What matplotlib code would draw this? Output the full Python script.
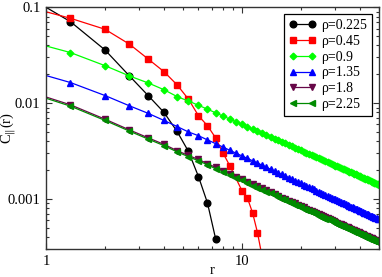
import matplotlib
matplotlib.use("Agg")
import matplotlib.pyplot as plt
from matplotlib.ticker import LogLocator, NullFormatter

# sampling grid r = 2/3, 4/3, ... 50
r = [0.667, 1.333, 2.0, 2.667, 3.333, 4.0, 4.667, 5.333, 6.0, 6.667,
     7.333, 8.0, 8.667, 9.333, 10.0, 10.667, 11.333, 12.0, 12.667, 13.333,
     14.0, 14.667, 15.333, 16.0, 16.667, 17.333, 18.0, 18.667, 19.333, 20.0,
     20.667, 21.333, 22.0, 22.667, 23.333, 24.0, 24.667, 25.333, 26.0, 26.667,
     27.333, 28.0, 28.667, 29.333, 30.0, 30.667, 31.333, 32.0, 32.667, 33.333,
     34.0, 34.667, 35.333, 36.0, 36.667, 37.333, 38.0, 38.667, 39.333, 40.0,
     40.667, 41.333, 42.0, 42.667, 43.333, 44.0, 44.667, 45.333, 46.0, 46.667,
     47.333, 48.0, 48.667, 49.333, 50.0]

labels = ["ρ=0.225", "ρ=0.45", "ρ=0.9", "ρ=1.35", "ρ=1.8", "ρ=2.25"]

c_0225 = [0.163, 0.0708, 0.0359, 0.0192, 0.0119, 0.0080, 0.00506, 0.00313,
          0.00171, 0.000908, 0.000386]

r_045 = [0.667, 1.333, 2.0, 2.667, 3.333, 4.0, 4.667, 5.333, 6.0, 6.667,
         7.333, 8.0, 8.667, 10.0, 10.667, 11.333, 12.0, 12.667]
c_045 = [0.112, 0.0768, 0.059, 0.0412, 0.0287, 0.0213, 0.0155, 0.0110,
         0.00738, 0.00581, 0.00435, 0.00302, 0.00222, 0.00122, 0.00102,
         0.000714, 0.000445, 0.00025]

c_09 = [0.0494, 0.0337, 0.0246, 0.0192, 0.0162, 0.0138, 0.0117, 0.0105,
        0.0095, 0.00864, 0.00793, 0.00733, 0.00682, 0.00639, 0.00600, 0.00566,
        0.00536, 0.00509, 0.00485, 0.00463, 0.00443, 0.00425, 0.00408, 0.00393,
        0.00379, 0.00366, 0.00353, 0.00342, 0.00331, 0.00321, 0.00312, 0.00303,
        0.00295, 0.00287, 0.00280, 0.00273, 0.00266, 0.00260, 0.00254, 0.00248,
        0.00243, 0.00238, 0.00232, 0.00228, 0.00223, 0.00219, 0.00215, 0.00211,
        0.00207, 0.00203, 0.00199, 0.00196, 0.00193, 0.00189, 0.00186, 0.00183,
        0.00180, 0.00178, 0.00175, 0.00172, 0.00170, 0.00167, 0.00165, 0.00163,
        0.00160, 0.00158, 0.00156, 0.00154, 0.00152, 0.00150, 0.00148, 0.00146,
        0.00144, 0.00143, 0.00141]

c_135 = [0.0246, 0.0164, 0.0120, 0.00937, 0.0078, 0.00659, 0.0057, 0.0050,
         0.00457, 0.00413, 0.00378, 0.00348, 0.00322, 0.00300, 0.00281, 0.00265,
         0.00250, 0.00237, 0.00225, 0.00214, 0.00204, 0.00196, 0.00187, 0.00180,
         0.00173, 0.00167, 0.00161, 0.00155, 0.00150, 0.00146, 0.00141, 0.00137,
         0.00133, 0.00129, 0.00126, 0.00122, 0.00119, 0.00116, 0.00113, 0.00111,
         0.00108, 0.00106, 0.00103, 0.00101, 0.000991, 0.000970, 0.000951,
         0.000932, 0.000914, 0.000896, 0.000880, 0.000864, 0.000848, 0.000833,
         0.000819, 0.000805, 0.000791, 0.000778, 0.000766, 0.000754, 0.000742,
         0.000731, 0.000720, 0.000709, 0.000699, 0.000689, 0.000679, 0.000670,
         0.000660, 0.000651, 0.000643, 0.000634, 0.000626, 0.000618, 0.000610]

c_18 = [0.0151, 0.0096, 0.0068, 0.00525, 0.00433, 0.00371, 0.00319, 0.00284,
        0.00258, 0.00234, 0.00213, 0.00197, 0.00183, 0.00171, 0.00161, 0.00150,
        0.00142, 0.00135, 0.00129, 0.00123, 0.00117, 0.00112, 0.00108, 0.00103,
        0.000996, 0.000960, 0.000927, 0.000896, 0.000867, 0.000840, 0.000815,
        0.000791, 0.000769, 0.000748, 0.000728, 0.000710, 0.000692, 0.000675,
        0.000658, 0.000643, 0.000628, 0.000615, 0.000601, 0.000588, 0.000577,
        0.000564, 0.000553, 0.000543, 0.000533, 0.000522, 0.000513, 0.000504,
        0.000495, 0.000486, 0.000478, 0.000471, 0.000462, 0.000455, 0.000448,
        0.000441, 0.000435, 0.000428, 0.000421, 0.000415, 0.000410, 0.000404,
        0.000398, 0.000392, 0.000387, 0.000382, 0.000377, 0.000372, 0.000368,
        0.000364, 0.000358]

c_225 = [0.0147, 0.0093, 0.0066, 0.0051, 0.0042, 0.0036, 0.0031, 0.00276,
         0.00250, 0.00227, 0.00207, 0.00191, 0.00178, 0.00166, 0.00156, 0.00146,
         0.00138, 0.00131, 0.00125, 0.00119, 0.00114, 0.00109, 0.00105, 0.00100,
         0.000967, 0.000932, 0.000900, 0.000870, 0.000842, 0.000816, 0.000791,
         0.000768, 0.000747, 0.000726, 0.000707, 0.000689, 0.000671, 0.000655,
         0.000639, 0.000624, 0.000610, 0.000597, 0.000584, 0.000571, 0.000560,
         0.000548, 0.000537, 0.000527, 0.000517, 0.000507, 0.000498, 0.000489,
         0.000481, 0.000472, 0.000464, 0.000457, 0.000449, 0.000442, 0.000435,
         0.000428, 0.000422, 0.000416, 0.000409, 0.000403, 0.000398, 0.000392,
         0.000386, 0.000381, 0.000376, 0.000371, 0.000366, 0.000361, 0.000357,
         0.000353, 0.000348]

for s in (c_09, c_135, c_18, c_225):
    assert len(s) == len(r), len(s)

plt.rcParams["font.family"] = ["Liberation Serif", "DejaVu Serif"]
plt.rcParams["mathtext.fontset"] = "stix"

fig = plt.figure(figsize=(3.82, 2.77), dpi=100)
ax = fig.add_axes([0.1204, 0.101, 0.8716, 0.8726])

lw = 0.9
ax.plot(r[:len(c_0225)], c_0225, "-o", color="black", lw=lw, ms=4.8, label=labels[0])
ax.plot(r_045, c_045, "-s", color="red", lw=lw, ms=4.3, label=labels[1])
ax.plot(r, c_09, "-D", color="#00ff00", lw=lw, ms=3.4, label=labels[2])
ax.plot(r, c_135, "-^", color="blue", lw=lw, ms=4.6, label=labels[3])
ax.plot(r, c_18, "-v", color="#670748", lw=lw, ms=4.6, label=labels[4])
ax.plot(r, c_225, "-<", color="#008b00", lw=lw, ms=4.6, label=labels[5])

ax.set_xscale("log")
ax.set_yscale("log")
ax.set_xlim(1, 50)
ax.set_ylim(3.0e-4, 0.1)

ax.set_xticks([1, 10])
ax.set_xticklabels(["1", "10"])
ax.set_yticks([0.001, 0.01, 0.1])
ax.set_yticklabels(["0.001", "0.01", "0.1"])
ax.xaxis.set_minor_locator(LogLocator(base=10, subs=range(2, 10)))
ax.yaxis.set_minor_locator(LogLocator(base=10, subs=range(2, 10)))
ax.xaxis.set_minor_formatter(NullFormatter())
ax.yaxis.set_minor_formatter(NullFormatter())
ax.tick_params(which="both", direction="in", top=True, right=True,
               labelsize=10.5, width=0.8, colors="#333333", labelcolor="black")
ax.tick_params(which="major", length=4.5, pad=4)
ax.tick_params(which="minor", length=2.5)
for sp in ax.spines.values():
    sp.set_linewidth(1.0)
    sp.set_color("#333333")

ax.set_xlabel("r", fontsize=10.5, va="center")
ax.xaxis.set_label_coords(0.5, -0.088)
ax.set_ylabel(r"C$_{\|}$(r)", fontsize=10.5, va="center")
ax.yaxis.set_label_coords(-0.112, 0.5)

leg = ax.legend(loc="upper right", numpoints=2, fontsize=10, fancybox=False,
                edgecolor="black", framealpha=1, handlelength=1.9,
                handletextpad=0.4, borderpad=0.35, labelspacing=0.2,
                borderaxespad=0.5)
leg.get_frame().set_linewidth(0.9)

fig.savefig("out.png", dpi=100)
